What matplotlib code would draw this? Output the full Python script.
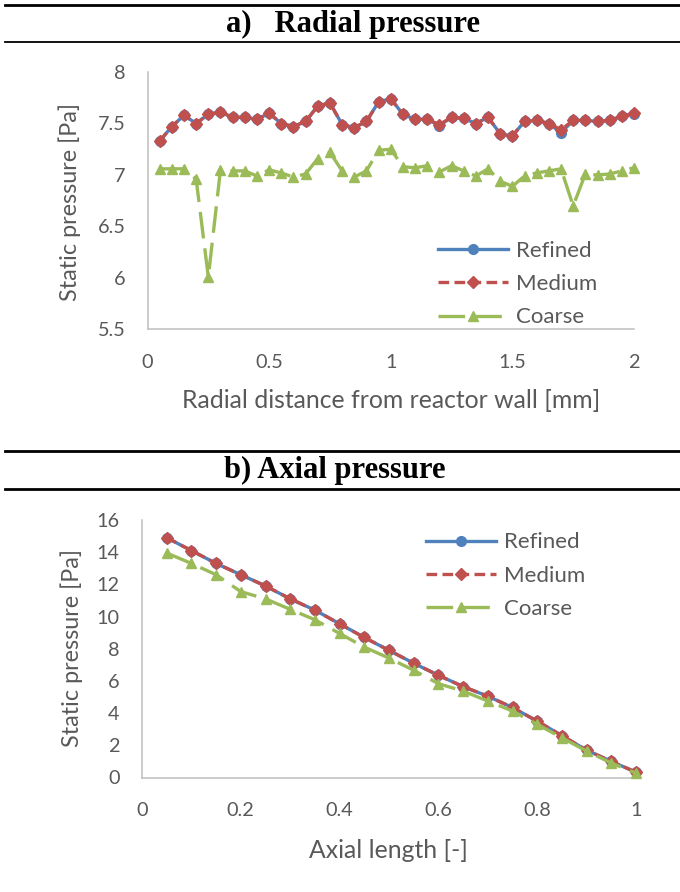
import matplotlib
matplotlib.use('Agg')
import matplotlib.pyplot as plt
from matplotlib.lines import Line2D
from matplotlib.ticker import FuncFormatter, MultipleLocator

# a) radial pressure
radial_x = [0.05, 0.10, 0.15, 0.20, 0.25, 0.30, 0.35, 0.40, 0.45, 0.50,
            0.55, 0.60, 0.65, 0.70, 0.75, 0.80, 0.85, 0.90, 0.95, 1.00,
            1.05, 1.10, 1.15, 1.20, 1.25, 1.30, 1.35, 1.40, 1.45, 1.50,
            1.55, 1.60, 1.65, 1.70, 1.75, 1.80, 1.85, 1.90, 1.95, 2.00]
radial_refined = [7.33, 7.47, 7.58, 7.50, 7.59, 7.61, 7.56, 7.56, 7.54, 7.60,
                  7.50, 7.47, 7.52, 7.67, 7.70, 7.49, 7.46, 7.52, 7.71, 7.74,
                  7.59, 7.54, 7.54, 7.48, 7.56, 7.55, 7.50, 7.56, 7.40, 7.38,
                  7.52, 7.53, 7.50, 7.41, 7.53, 7.53, 7.52, 7.53, 7.57, 7.59]
radial_medium = [7.33, 7.47, 7.58, 7.50, 7.59, 7.61, 7.56, 7.56, 7.54, 7.60,
                 7.50, 7.47, 7.52, 7.67, 7.70, 7.49, 7.46, 7.52, 7.71, 7.74,
                 7.59, 7.54, 7.54, 7.49, 7.56, 7.55, 7.50, 7.56, 7.40, 7.38,
                 7.52, 7.53, 7.50, 7.44, 7.53, 7.53, 7.52, 7.53, 7.57, 7.60]
radial_coarse = [7.06, 7.06, 7.06, 6.96, 6.01, 7.05, 7.04, 7.04, 6.99, 7.05,
                 7.02, 6.98, 7.01, 7.16, 7.22, 7.04, 6.98, 7.04, 7.24, 7.25,
                 7.08, 7.07, 7.09, 7.03, 7.09, 7.04, 6.99, 7.06, 6.94, 6.89,
                 6.99, 7.02, 7.04, 7.06, 6.70, 7.01, 7.00, 7.01, 7.04, 7.07]

# b) axial pressure
axial_x = [0.05, 0.10, 0.15, 0.20, 0.25, 0.30, 0.35, 0.40, 0.45, 0.50,
           0.55, 0.60, 0.65, 0.70, 0.75, 0.80, 0.85, 0.90, 0.95, 1.00]
axial_refined = [14.9, 14.1, 13.3, 12.6, 11.9, 11.1, 10.4, 9.55, 8.7, 7.9,
                 7.1, 6.35, 5.65, 5.05, 4.35, 3.5, 2.6, 1.7, 1.0, 0.33]
axial_medium = [14.9, 14.1, 13.3, 12.6, 11.9, 11.1, 10.4, 9.55, 8.7, 7.9,
                7.1, 6.35, 5.65, 5.05, 4.35, 3.5, 2.6, 1.7, 1.0, 0.33]
axial_coarse = [13.95, 13.3, 12.6, 11.55, 11.1, 10.45, 9.8, 8.95, 8.1, 7.42,
                6.66, 5.83, 5.37, 4.75, 4.13, 3.3, 2.47, 1.64, 0.9, 0.27]

series_names = ['Refined', 'Medium', 'Coarse']

BLUE = '#4F81BD'
RED = '#C0504D'
GREEN = '#9BBB59'
GREY_TXT = '#595959'
GREY_AX = '#BFBFBF'

plt.rcParams['font.family'] = ['Lato', 'DejaVu Sans']

W, H = 680, 892
fig = plt.figure(figsize=(W / 100, H / 100), dpi=100)


def box(l, t, r, b):
    return [l / W, 1 - b / H, (r - l) / W, (b - t) / H]


def fmt(v, pos):
    return '%g' % v


def draw(ax, x, ys, ylim, ystep, xlim, xstep, leg_anchor):
    styles = [
        dict(color=BLUE, marker='o', ms=7, ls='-', zorder=3),
        dict(color=RED, marker='D', ms=5.8, ls=(0, (3.2, 1.6)), zorder=4),
        dict(color=GREEN, marker='^', ms=7.5, ls=(0, (8, 3)), zorder=5),
    ]
    for y, name, st in zip(ys, series_names, styles):
        ax.plot(x, y, label=name, lw=2.4, clip_on=False, **st)
    ax.set_xlim(*xlim)
    ax.set_ylim(*ylim)
    ax.xaxis.set_major_locator(MultipleLocator(xstep))
    ax.yaxis.set_major_locator(MultipleLocator(ystep))
    ax.xaxis.set_major_formatter(FuncFormatter(fmt))
    ax.yaxis.set_major_formatter(FuncFormatter(fmt))
    for s in ['top', 'right']:
        ax.spines[s].set_visible(False)
    for s in ['left', 'bottom']:
        ax.spines[s].set_color(GREY_AX)
        ax.spines[s].set_linewidth(1.1)
    ax.tick_params(length=0, labelsize=14.3, labelcolor=GREY_TXT)
    ax.tick_params(axis='y', pad=16)
    ax.tick_params(axis='x', pad=17.5)
    leg = ax.legend(loc='upper left', bbox_to_anchor=leg_anchor, frameon=False,
                    fontsize=16, handlelength=3.15, handletextpad=0.36,
                    labelspacing=0.6, borderpad=0, borderaxespad=0, numpoints=1)
    for t in leg.get_texts():
        t.set_color(GREY_TXT)


# top chart
ax1 = fig.add_axes(box(147.5, 72, 634, 329.5))
draw(ax1, radial_x, [radial_refined, radial_medium, radial_coarse],
     (5.5, 8), 0.5, (0, 2), 0.5, (0.597, 0.345))
fig.text(391 / W, 1 - 401 / H, 'Radial distance from reactor wall [mm]',
         ha='center', va='center', fontsize=17.8, color=GREY_TXT)
fig.text(70 / W, 1 - 202 / H, 'Static pressure [Pa]', rotation=90,
         ha='center', va='center', fontsize=16.8, color=GREY_TXT)

# bottom chart
ax2 = fig.add_axes(box(142, 520, 636, 777.5))
draw(ax2, axial_x, [axial_refined, axial_medium, axial_coarse],
     (0, 16), 2, (0, 1), 0.2, (0.574, 0.952))
fig.text(388 / W, 1 - 850 / H, 'Axial length [-]',
         ha='center', va='center', fontsize=17.8, color=GREY_TXT)
fig.text(72 / W, 1 - 648 / H, 'Static pressure [Pa]', rotation=90,
         ha='center', va='center', fontsize=16.8, color=GREY_TXT)

# headers
title_font = dict(family=['Liberation Serif', 'DejaVu Serif'], weight='bold',
                  fontsize=22, color='black', ha='center', va='center')
fig.text(353 / W, 1 - 24 / H, 'a)   Radial pressure', **title_font)
fig.text(335 / W, 1 - 470 / H, 'b) Axial pressure', **title_font)

for y, lw in [(5, 2.0), (42, 1.3), (451, 2.0), (489, 2.0)]:
    fig.add_artist(Line2D([5 / W, 1], [1 - y / H, 1 - y / H],
                          transform=fig.transFigure, color='black', lw=lw))

fig.savefig('out.png', dpi=100)
